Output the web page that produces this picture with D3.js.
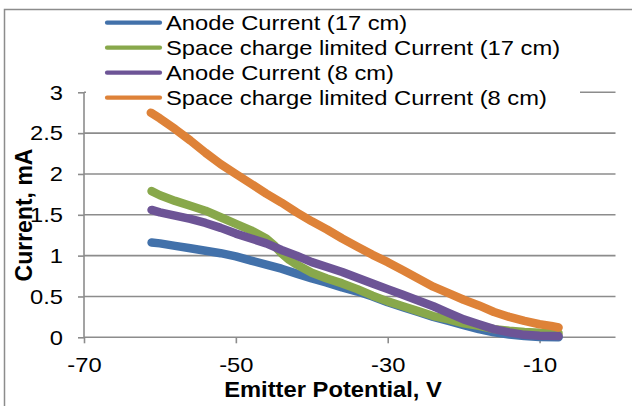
<!DOCTYPE html>
<html>
<head>
<meta charset="utf-8">
<script src="https://cdn.jsdelivr.net/npm/d3@7/dist/d3.min.js"></script>
<style>
  html, body { margin: 0; padding: 0; background: #fff; }
  svg { display: block; font-family: "Liberation Sans", Arial, sans-serif; }
</style>
</head>
<body>
<svg id="chart" width="632" height="406"></svg>
<script>
// ---- Data ----
const seriesNames = [
  "Anode Current (17 cm)",
  "Space charge limited Current (17 cm)",
  "Anode Current (8 cm)",
  "Space charge limited Current (8 cm)"
];
const seriesColors = ["#4271AA", "#88A84B", "#6D5496", "#DE8238"];

const anode17V = [-61.1,-60,-58,-56,-54,-52,-50,-48,-46,-44,-42,-40,-38,-36,-34,-32,-30,-28,-26,-24,-22,-20,-18,-16,-14,-12,-10,-7.5];
const anode17I = [1.16,1.15,1.12,1.09,1.06,1.03,0.99,0.94,0.89,0.84,0.78,0.72,0.67,0.61,0.56,0.50,0.43,0.37,0.31,0.25,0.20,0.15,0.10,0.06,0.035,0.015,0.005,0.0];

const scl17V = [-61.1,-60,-58,-56,-54,-52,-50,-48,-46,-45,-44,-43,-42,-40,-38,-36,-34,-32,-30,-28,-26,-24,-22,-20,-18,-16,-14,-12,-10,-7.5];
const scl17I = [1.79,1.74,1.67,1.61,1.55,1.47,1.39,1.31,1.21,1.13,1.03,0.95,0.89,0.79,0.72,0.66,0.59,0.51,0.44,0.38,0.32,0.26,0.22,0.17,0.14,0.10,0.08,0.065,0.055,0.05];

const anode8V = [-61.1,-60,-58,-56,-54,-52,-50,-48,-46,-44,-42,-40,-38,-36,-34,-32,-30,-28,-26,-24,-22,-20,-18,-16,-14,-12,-10,-7.5];
const anode8I = [1.56,1.53,1.49,1.45,1.40,1.34,1.27,1.21,1.15,1.07,1.00,0.92,0.86,0.80,0.73,0.66,0.59,0.52,0.45,0.38,0.30,0.22,0.16,0.10,0.06,0.03,0.02,0.015];

const scl8V = [-61.2,-60,-58,-56,-54,-52,-50,-48,-46,-44,-42,-40,-38,-36,-34,-32,-30,-28,-26,-24,-22,-20,-18,-16,-14,-12,-10,-8.5,-7.5];
const scl8I = [2.75,2.68,2.55,2.41,2.26,2.12,2.00,1.88,1.76,1.65,1.53,1.42,1.32,1.21,1.11,1.01,0.92,0.82,0.72,0.62,0.54,0.46,0.39,0.31,0.25,0.20,0.16,0.14,0.12];

const xTicks = [-70, -50, -30, -10];
const yTicks = [0, 0.5, 1, 1.5, 2, 2.5, 3];
const xTitle = "Emitter Potential, V";
const yTitle = "Current, mA";

const seriesV = [anode17V, scl17V, anode8V, scl8V];
const seriesI = [anode17I, scl17I, anode8I, scl8I];

// ---- Chart ----
const svg = d3.select("#chart");
const gridColor = "#8C8C8C";
const stretch = 1.13;

const x = d3.scaleLinear().domain([-70, 0]).range([84, 615.5]);
const y = d3.scaleLinear().domain([0, 3]).range([337.3, 92.3]);

// outer chart frame
svg.append("rect")
  .attr("x", 4.5).attr("y", 9.5).attr("width", 700).attr("height", 500)
  .attr("fill", "#fff").attr("stroke", gridColor).attr("stroke-width", 1.5);

// gridlines
svg.append("g").selectAll("line").data(yTicks.filter(d => d !== 0)).join("line")
  .attr("x1", x(-70)).attr("x2", x(0))
  .attr("y1", d => y(d)).attr("y2", d => y(d))
  .attr("stroke", gridColor).attr("stroke-width", 1.6);

// y axis
const yAxis = svg.append("g").attr("transform", `translate(${x(-70)},0)`)
  .call(d3.axisLeft(y).tickValues(yTicks).tickSize(6).tickPadding(12.6).tickFormat(d3.format("")));
// x axis
const xAxis = svg.append("g").attr("transform", `translate(0,${y(0)})`)
  .call(d3.axisBottom(x).tickValues(xTicks).tickSize(6).tickPadding(14).tickFormat(d => String(d)));

[yAxis, xAxis].forEach(ax => {
  ax.select(".domain").attr("stroke", gridColor).attr("stroke-width", 1.6);
  ax.selectAll(".tick line").attr("stroke", gridColor).attr("stroke-width", 1.6);
  ax.selectAll(".tick text")
    .attr("fill", "#000").attr("font-size", 21)
    .attr("font-family", "'Liberation Sans', Arial, sans-serif");
});
yAxis.selectAll(".tick text").attr("transform", `scale(${stretch},1)`);
xAxis.selectAll(".tick text").attr("transform", `scale(${stretch},1)`);
xAxis.select(".domain").attr("d", `M${x(-70)},0H${x(0)}`);
yAxis.select(".domain").attr("d", `M0,${y(3)}V${y(0)}`);

// series
const line = d3.line().x(d => x(d[0])).y(d => y(d[1])).curve(d3.curveLinear);
seriesV.forEach((vs, i) => {
  const pts = vs.map((v, j) => [v, seriesI[i][j]]);
  svg.append("path")
    .attr("d", line(pts))
    .attr("fill", "none")
    .attr("stroke", seriesColors[i])
    .attr("stroke-width", 8.5)
    .attr("stroke-linecap", "round")
    .attr("stroke-linejoin", "round");
});

// legend (white box over top of plot)
const leg = svg.append("g");
leg.append("rect").attr("x", 86).attr("y", 11).attr("width", 494).attr("height", 97).attr("fill", "#fff");
seriesNames.forEach((name, i) => {
  const ry = 22.7 + i * 25;
  leg.append("line")
    .attr("x1", 107).attr("x2", 160).attr("y1", ry).attr("y2", ry)
    .attr("stroke", seriesColors[i]).attr("stroke-width", 4.2).attr("stroke-linecap", "round");
  leg.append("g").attr("transform", `translate(166,${ry})`)
    .append("text")
    .attr("transform", `scale(${stretch},1)`)
    .attr("dy", "0.35em").attr("font-size", 21).attr("fill", "#000")
    .text(name);
});

// axis titles
svg.append("text")
  .attr("x", 333).attr("y", 397)
  .attr("text-anchor", "middle").attr("font-size", 22).attr("font-weight", "bold")
  .attr("transform", "translate(333,0) scale(1.08,1) translate(-333,0)")
  .text(xTitle);

svg.append("text")
  .attr("transform", "translate(32,215) rotate(-90)")
  .attr("text-anchor", "middle").attr("font-size", 23).attr("font-weight", "bold")
  .text(yTitle);
</script>
</body>
</html>
